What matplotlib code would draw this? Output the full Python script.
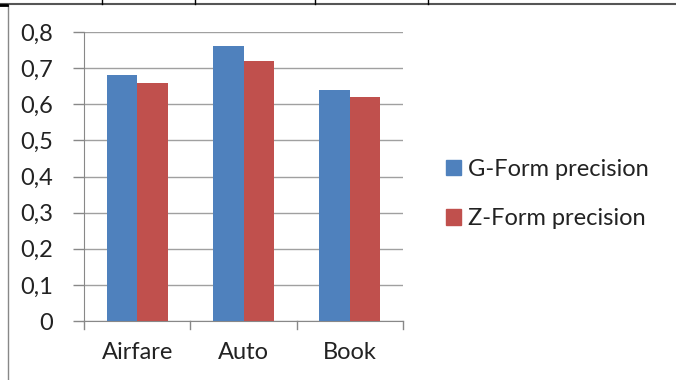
import matplotlib.pyplot as plt
from matplotlib.lines import Line2D
import numpy as np

categories = ['Airfare', 'Auto', 'Book']
g_form = [0.68, 0.76, 0.64]
z_form = [0.66, 0.72, 0.62]
series_names = ['G-Form precision', 'Z-Form precision']
y_ticks = [0, 0.1, 0.2, 0.3, 0.4, 0.5, 0.6, 0.7, 0.8]
y_labels = ['0', '0,1', '0,2', '0,3', '0,4', '0,5', '0,6', '0,7', '0,8']

plt.rcParams['font.family'] = ['Lato', 'DejaVu Sans']
FS = 17

W, H = 676, 380
fig = plt.figure(figsize=(W / 100, H / 100), dpi=100)

# plot area in pixels: x 84..403, y 32..321
ax = fig.add_axes([84 / W, 1 - 321 / H, (403 - 84) / W, (321 - 32) / H])

x = np.arange(len(categories))
bw = 0.286
ax.bar(x - bw / 2, g_form, bw, color='#4F81BD', label=series_names[0], zorder=3)
ax.bar(x + bw / 2, z_form, bw, color='#C0504D', label=series_names[1], zorder=3)

ax.set_xlim(-0.5, len(categories) - 0.5)
ax.set_ylim(0, 0.8)
ax.set_yticks(y_ticks)
ax.set_yticklabels(y_labels)
ax.yaxis.grid(True, color='#A0A0A0', linewidth=1, zorder=0)

ax.set_xticks(x)
ax.set_xticklabels(categories)
ax.tick_params(axis='x', length=0, pad=15, labelsize=FS, labelcolor='#222222')
ax.tick_params(axis='y', length=8, width=1, color='#888888', pad=14,
               labelsize=FS, labelcolor='#222222')

# category boundary ticks below the x axis
for b in np.arange(-0.5, len(categories), 1.0):
    ax.plot([b, b], [0, -0.021], color='#888888', lw=1, clip_on=False, zorder=4)

for s in ['top', 'right']:
    ax.spines[s].set_visible(False)
ax.spines['left'].set_color('#888888')
ax.spines['bottom'].set_color('#888888')

handles = [plt.Rectangle((0, 0), 1, 1, color='#4F81BD'),
           plt.Rectangle((0, 0), 1, 1, color='#C0504D')]
fig.legend(handles, series_names, loc='center left',
           bbox_to_anchor=(425 / W, 1 - 194 / H), frameon=False,
           fontsize=FS, labelcolor='#222222', handlelength=0.62,
           handleheight=0.62, handletextpad=0.3, labelspacing=1.2)

# outer frame lines
fig.add_artist(Line2D([0, 1], [1 - 3.5 / H, 1 - 3.5 / H], color='#555555', lw=1.5))
fig.add_artist(Line2D([7.5 / W, 7.5 / W], [0, 1 - 3.5 / H], color='#888888', lw=1))
fig.add_artist(Line2D([0, 7 / W], [1 - 4.5 / H, 1 - 4.5 / H], color='black', lw=2))
for tx in [102, 195, 315, 428]:
    fig.add_artist(Line2D([tx / W, tx / W], [1 - 3.5 / H, 1], color='black', lw=1))

fig.savefig('out.png', dpi=100)
